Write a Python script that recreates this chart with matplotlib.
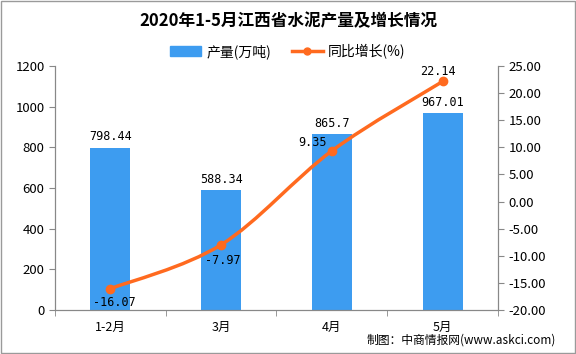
import matplotlib.pyplot as plt
from matplotlib.path import Path
from matplotlib.patches import PathPatch, Patch
from matplotlib.lines import Line2D

plt.rcParams['font.family'] = ['Noto Sans CJK SC', 'DejaVu Sans']

months = ["1-2月", "3月", "4月", "5月"]
output = [798.44, 588.34, 865.7, 967.01]
growth = [-16.07, -7.97, 9.35, 22.14]

BLUE = "#3d9cf0"
ORANGE = "#ff6a1f"

fig = plt.figure(figsize=(5.76, 3.54), dpi=100)
fig.patches.append(plt.Rectangle((0.002, 0.003), 0.996, 0.994, transform=fig.transFigure,
                                 fill=False, edgecolor="#9a9a9a", linewidth=1))
ax = fig.add_axes([0.0955, 0.1243, 0.769, 0.6893])
ax2 = ax.twinx()

x = list(range(len(months)))
ax.bar(x, output, width=0.36, color=BLUE, zorder=2)
for xi, v in zip(x, output):
    ax.annotate(f"{v:g}", (xi, v), xytext=(0, 3), textcoords="offset points",
                ha="center", va="bottom", fontsize=8.5, family="DejaVu Sans Mono")

ax.set_xlim(-0.5, 3.5)
ax.set_ylim(0, 1200)
ax.set_yticks(range(0, 1201, 200))
ax.set_xticks(x)
ax.set_xticklabels(months, fontsize=9)
ax.set_xticks([-0.5, 0.5, 1.5, 2.5, 3.5], minor=True)
ax.tick_params(axis="x", which="major", length=0, pad=8)
ax.tick_params(axis="x", which="minor", length=4, color="#888888")
ax.tick_params(axis="y", length=4, color="#888888", labelsize=9.5)

ax2.set_ylim(-20, 25)
ax2.set_yticks(range(-20, 26, 5))
ax2.set_yticklabels([f"{t:.2f}" for t in range(-20, 26, 5)])
ax2.tick_params(axis="y", length=4, color="#888888", labelsize=9.5)

for a in (ax, ax2):
    a.spines["top"].set_visible(False)
    for s in ("left", "right", "bottom"):
        a.spines[s].set_color("#888888")

# smooth line through the points (Catmull-Rom as cubic Bezier)
pts = list(zip(x, growth))
verts = [pts[0]]
codes = [Path.MOVETO]
for i in range(len(pts) - 1):
    p0 = pts[i - 1] if i > 0 else pts[i]
    p1 = pts[i]
    p2 = pts[i + 1]
    p3 = pts[i + 2] if i + 2 < len(pts) else pts[i + 1]
    c1 = (p1[0] + (p2[0] - p0[0]) / 6, p1[1] + (p2[1] - p0[1]) / 6)
    c2 = (p2[0] - (p3[0] - p1[0]) / 6, p2[1] - (p3[1] - p1[1]) / 6)
    verts += [c1, c2, p2]
    codes += [Path.CURVE4] * 3
ax2.add_patch(PathPatch(Path(verts, codes), fill=False, edgecolor=ORANGE, linewidth=2.5, zorder=3))
ax2.plot(x, growth, "o", color=ORANGE, markersize=6, zorder=4)

offsets = [(3, -10), (1, -11), (-14, 6), (-3, 7)]
for xi, g, off in zip(x, growth, offsets):
    ax2.annotate(f"{g:.2f}", (xi, g), xytext=off, textcoords="offset points",
                 ha="center", va="center", fontsize=8.5, family="DejaVu Sans Mono")

fig.text(0.5, 0.94, "2020年1-5月江西省水泥产量及增长情况", ha="center", va="center",
         fontsize=12, fontweight="bold")
handles = [Patch(color=BLUE), Line2D([], [], color=ORANGE, linewidth=2.5, marker="o", markersize=5)]
fig.legend(handles, ["产量(万吨)", "同比增长(%)"], loc="center", bbox_to_anchor=(0.5, 0.855),
           ncol=2, frameon=False, fontsize=10, handlelength=2.2, columnspacing=1.5,
           handletextpad=0.4)
fig.text(0.965, 0.04, "制图：中商情报网(www.askci.com)", ha="right", va="center", fontsize=8.5)

fig.savefig("out.png", dpi=100)
